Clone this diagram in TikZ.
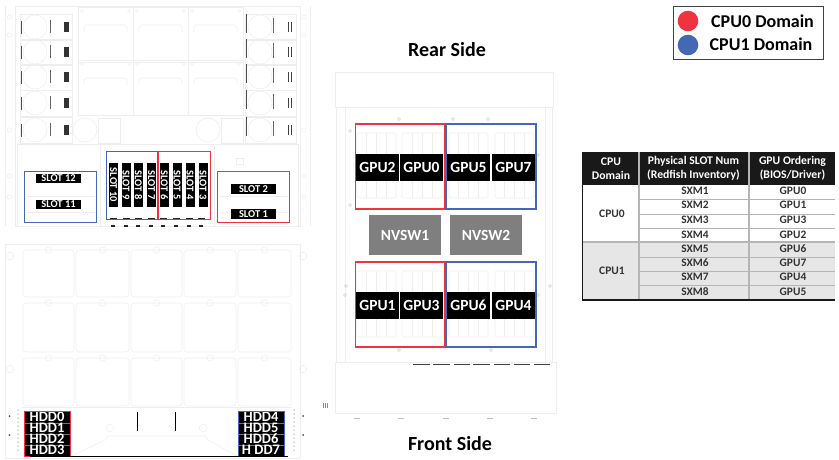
\documentclass[tikz,border=0pt]{standalone}
\usepackage{fontspec}
\setmainfont{Carlito}
\definecolor{cpured}{HTML}{EF3340}
\definecolor{cpublue}{HTML}{4468B4}
\definecolor{faint}{HTML}{EEEEEE}
\definecolor{rowgray}{HTML}{E7E6E6}
\definecolor{sepgray}{HTML}{B5B5B5}
\definecolor{nvgray}{HTML}{7F7F7F}
\tikzset{
 thin faint/.style={draw=faint,line width=.6pt},
 redbox/.style={draw=cpured,line width=1.6pt},
 bluebox/.style={draw=cpublue,line width=1.6pt},
 blacklabel/.style={fill=black,text=white,inner sep=0pt,font=\bfseries\fontsize{10.5}{10}\selectfont,minimum width=45pt},
 slotv/.style={blacklabel,rotate=-90,minimum width=44pt,minimum height=9pt},
 sloth/.style={blacklabel,minimum height=9.5pt},
 gpulabel/.style={fill=black,text=white,inner sep=0pt,font=\bfseries\fontsize{15.5}{15}\selectfont,minimum width=42.5pt,minimum height=27pt},
 nvlabel/.style={fill=nvgray,text=white,inner sep=0pt,font=\bfseries\fontsize{15.5}{15}\selectfont,minimum width=72pt,minimum height=40pt},
 hddtext/.style={text=white,inner sep=0pt,font=\bfseries\fontsize{14.5}{10}\selectfont,text height=8pt,text depth=0pt},
 titletext/.style={inner sep=0pt,font=\bfseries\fontsize{20}{20}\selectfont},
 legendtext/.style={inner sep=0pt,font=\bfseries\fontsize{18}{18}\selectfont,anchor=west},
 headtext/.style={inner sep=0pt,text=white,font=\bfseries\fontsize{11.7}{14}\selectfont,align=center},
 celltext/.style={inner sep=0pt,font=\bfseries\fontsize{11.4}{11}\selectfont,text=black!80},
}
\begin{document}
\begin{tikzpicture}[x=1pt,y=-1pt]
\useasboundingbox (0,0) rectangle (839,460);

%%% rear chassis, faint line work
\draw[thin faint] (15,6) rectangle (300,226);
\draw[thin faint] (5,6) -- (5,226) (310,6) -- (310,226);
\foreach \y in {17,35,130,176,197} {
  \draw[thin faint] (9.5,\y) circle (2.2);
  \draw[thin faint] (304,\y) circle (2.2);
}
\foreach \x in {78,133,188} \foreach \y in {7,60} {
  \draw[thin faint] (\x,\y) rectangle ++(55,55);
  \draw[thin faint,rounded corners=3pt] (\x+6,\y+25) -- (\x+6,\y+18) -- (\x+49,\y+18) -- (\x+49,\y+25);
  \draw[thin faint] (\x+4,\y+4) circle (1.5) (\x+51,\y+4) circle (1.5);
}
\foreach \y in {27,52,77,103,130} {
  \draw[thin faint] (20,\y-13) rectangle (72,\y+13);
  \draw[thin faint] (35,\y) circle (12);
  \draw[thin faint] (245,\y-13) rectangle (296,\y+13);
  \draw[thin faint] (260,\y) circle (12);
  \fill[black!70] (20.5,\y-6) rectangle (21.8,\y+7);
  \fill[black!60] (49.5,\y-7) rectangle (50.5,\y+6);
  \fill[black!80] (64,\y-5) rectangle (68.5,\y+5);
  \fill[black!70] (245.5,\y-13) rectangle (246.8,\y+6);
  \fill[black!60] (272.7,\y-9) rectangle (273.7,\y+6);
  \fill[black!75] (288,\y-5) rectangle (289,\y+5);
  \fill[black!75] (291,\y-5) rectangle (292.2,\y+5);
}
\foreach \x in {85,208} {
  \draw[thin faint] (\x,130) circle (12);
  \draw[thin faint] (\x+13,118) rectangle ++(22,25);
}
\draw[thin faint] (17,144) rectangle (100,226);
\draw[thin faint] (100,144) rectangle (214,226);
\draw[thin faint] (214,144) rectangle (298,226);
\draw[thin faint] (236,158) rectangle (243,164);
\foreach \y in {196,212} {
  \draw[thin faint] (27,\y) -- (95,\y);
  \draw[thin faint] (220,\y) -- (288,\y);
}
%%% dark tick marks under the slots
\foreach \x in {110,123,135,148,160,173,186,198} {
  \fill[black!85] (\x,218) rectangle ++(7,1.5);
  \fill[black!85] (\x+1,225) rectangle ++(4,1.5);
}
%%% slots
\node[sloth] (s12) at (58.5,178.5) {SLOT 12};
\node[sloth] (s11) at (58.5,204.5) {SLOT 11};
\node[sloth] (s2) at (253.5,189) {SLOT 2};
\node[sloth] (s1) at (253.5,214) {SLOT 1};
\node[slotv] (s10) at (113.5,185) {SLOT 10};
\node[slotv] (s9) at (126,185) {SLOT 9};
\node[slotv] (s8) at (138.5,185) {SLOT 8};
\node[slotv] (s7) at (151.5,185) {SLOT 7};
\node[slotv] (s6) at (164.5,185) {SLOT 6};
\node[slotv] (s5) at (177,185) {SLOT 5};
\node[slotv] (s4) at (190,185) {SLOT 4};
\node[slotv] (s3) at (203,185) {SLOT 3};
\draw[bluebox] (24.5,171.5) rectangle (96.5,222.5);
\draw[redbox] (217.5,171.5) rectangle (289.5,222.5);
\draw[bluebox] (106.5,151.5) rectangle (157.5,219.5);
\draw[redbox] (158.5,151.5) rectangle (210.5,219.5);

%%% front panel, faint line work
\draw[thin faint] (5,244) rectangle (300,458);
\foreach \x/\xb in {22/75,75/130,130/183,183/237,237/292} \foreach \y/\yb in {245/298,298/353,353/407} {
  \draw[thin faint,rounded corners=3pt] (\x+1,\y+5) rectangle (\xb-1,\yb-1);
  \draw[thin faint] ({(\x+\xb)/2},\y+5) circle (3.2);
}
\draw[thin faint] (22,407) -- (292,407);
\foreach \p in {(10,256),(303,256),(10,369),(303,369)} \draw[thin faint] \p circle (3.8);
\foreach \p in {(110,428),(203,428)} \draw[thin faint] \p circle (3.8);
\draw[thin faint] (72,456) -- (105,440) -- (108,436) -- (205,436) -- (208,440) -- (237,456);
\foreach \p in {(9.5,416),(9.5,435),(303,416),(303,435)} \fill[black!70] \p circle (1);
\foreach \yy in {0,...,10} {
  \fill[black!75] (18,410+\yy*4) circle (.5);
  \fill[black!75] (294,410+\yy*4) circle (.5);
}
%%% HDD bays
\fill[black] (25,412) rectangle (70,456);
\fill[black] (239,412) rectangle (284,456);
\foreach \y in {423,434,445} {
  \draw[black!55,line width=.7pt] (25,\y) -- (70,\y);
  \draw[black!55,line width=.7pt] (239,\y) -- (284,\y);
}
\node[hddtext] (h0) at (47,417.5) {HDD0};
\node[hddtext] (h1) at (47,428.5) {HDD1};
\node[hddtext] (h2) at (47,439.5) {HDD2};
\node[hddtext] (h3) at (47,450) {HDD3};
\node[hddtext] (h4) at (261,417.5) {HDD4};
\node[hddtext] (h5) at (261,428.5) {HDD5};
\node[hddtext] (h6) at (261,439.5) {HDD6};
\node[hddtext] (h7) at (261,450) {H DD7};
\draw[redbox] (24.5,411.5) rectangle (70.5,456.5);
\draw[bluebox] (238.5,411.5) rectangle (284.5,456.5);
\draw[black,line width=.8pt] (30,456.5) -- (288,456.5);
\draw[black,line width=.8pt] (137.3,412) -- (137.3,431) (175.3,412) -- (175.3,431);

%%% GPU chassis, faint line work
\draw[thin faint] (335,72) rectangle (553,107);
\draw[thin faint] (336,107) -- (336,362) (552,107) -- (552,362);
\draw[thin faint] (335,362) rectangle (556,413);
\draw[thin faint] (345,107) rectangle (545,362);
\foreach \p in {(399,119),(453,119),(488,119),(399,350),(491,350),(350,131),(538,155),(350,205),(345,295),(538,295),(346,286),(550,286)}
  \draw[black!18,line width=.5pt] \p circle (1.5);
\foreach \xa/\xb in {357/396,402/443,449/488,495/534} \foreach \ya/\yb in {133/198,271/337} {
  \draw[thin faint,rounded corners=2pt] (\xa,\ya) rectangle (\xb,\yb);
  \foreach \t in {1,...,3} \draw[thin faint] ({\xa+(\xb-\xa)*\t/4},\ya) -- ({\xa+(\xb-\xa)*\t/4},\yb);
}
\foreach \xa/\xb in {413/430,433/450,454/470,473/490,494/510,514/530,534/550} \fill[black!75] (\xa,364) rectangle (\xb,365.2);
\foreach \x in {357,401,446,490,534} \draw[black!25,line width=.8pt] (\x-3,418) -- (\x+3,418);
\foreach \x in {323.5,325.5,327.5} \draw[black!45,line width=.5pt] (\x,403) -- (\x,408);

%%% GPUs and switches
\node[gpulabel] (g2) at (377.5,167.5) {GPU2};
\node[gpulabel] (g0) at (421.5,167.5) {GPU0};
\node[gpulabel] (g5) at (468.5,167.5) {GPU5};
\node[gpulabel] (g7) at (513.5,167.5) {GPU7};
\node[gpulabel] (g1) at (377.5,305) {GPU1};
\node[gpulabel] (g3) at (421.5,305) {GPU3};
\node[gpulabel] (g6) at (468.5,305) {GPU6};
\node[gpulabel] (g4) at (513.5,305) {GPU4};
\node[nvlabel] (nv1) at (405,235) {NVSW1};
\node[nvlabel] (nv2) at (486,235) {NVSW2};
\draw[redbox] (355.5,124) rectangle (444.5,209);
\draw[bluebox] (446,124) rectangle (536,209);
\draw[redbox] (355.5,262) rectangle (444.5,347);
\draw[bluebox] (446,262) rectangle (536,347);
\node[titletext] (rear) at (447,50) {Rear Side};
\node[titletext] (front) at (450,444) {Front Side};

%%% legend
\draw[black!75,line width=.8pt] (673,6) rectangle (823,59);
\fill[cpured] (688,21) circle (10.3);
\fill[cpublue] (688,45) circle (10.3);
\node[legendtext] (l0) at (711,21) {CPU0 Domain};
\node[legendtext] (l1) at (709.5,44) {CPU1 Domain};

%%% table
\fill[black!90] (582,152) rectangle (835,185);
\fill[rowgray] (583,242) rectangle (835,299);
\foreach \y in {199,214,228.5,257,271,285.5} \draw[sepgray,line width=1pt] (639,\y) -- (835,\y);
\draw[sepgray,line width=1.2pt] (583,242) -- (835,242);
\draw[sepgray,line width=2pt] (638.5,152) -- (638.5,299);
\draw[sepgray,line width=2pt] (749,152) -- (749,299);
\draw[black!90,line width=1.5pt] (582.7,152) -- (582.7,300) -- (835,300);
\node[headtext] (t1) at (611,168.5) {CPU\\Domain};
\node[headtext] (t2) at (693.5,168.5) {Physical SLOT Num\\(Redfish Inventory)};
\node[headtext] (t3) at (792.5,168.5) {GPU Ordering\\(BIOS/Driver)};
\node[celltext,font=\bfseries\fontsize{11.5}{11}\selectfont] (c0) at (612,214) {CPU0};
\node[celltext,font=\bfseries\fontsize{11.5}{11}\selectfont] (c1) at (612,271) {CPU1};
\foreach \n/\y/\g in {1/191/0,2/205/1,3/220/3,4/234.5/2,5/248.5/6,6/263/7,7/277/4,8/291.5/5} {
  \node[celltext] (sxm\n) at (695,\y) {SXM\n};
  \node[celltext] (ord\n) at (793,\y) {GPU\g};
}
\end{tikzpicture}
\end{document}
